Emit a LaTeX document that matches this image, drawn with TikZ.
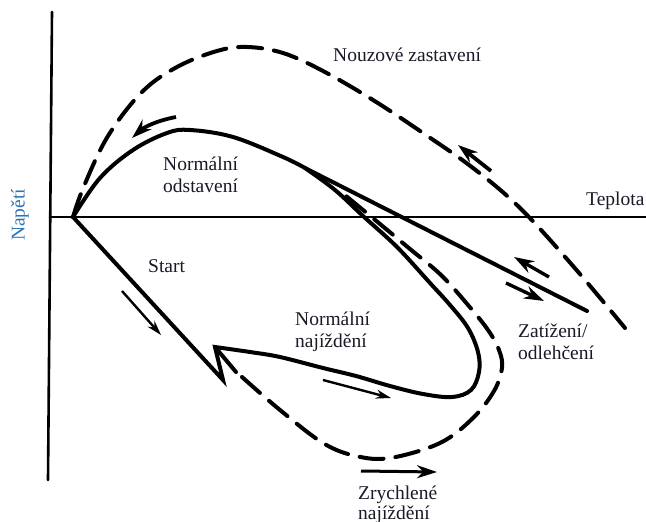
\documentclass[tikz,border=0pt]{standalone}
\usepackage{fontspec}
\setmainfont{Liberation Serif}
\usetikzlibrary{arrows.meta}
\definecolor{axisblue}{RGB}{46,116,181}
\definecolor{txt}{RGB}{25,25,40}
\tikzset{
  axisline/.style={line width=2.6pt, line cap=round},
  solidcurve/.style={line width=4pt, line cap=round, line join=round},
  dashcurve/.style={line width=4pt, line cap=round, dash pattern=on 24pt off 12pt},
  thinarrow/.style={line width=2.4pt, -{Stealth[length=15pt,width=9pt]}},
  thickarrow/.style={line width=3.4pt, -{Stealth[length=20pt,width=13pt]}},
  lbl/.style={inner sep=0pt, font=\fontsize{19.5}{22}\selectfont, text=txt, anchor=base west},
}
\begin{document}
\begin{tikzpicture}[x=1pt,y=-1pt]
\useasboundingbox (0,0) rectangle (646,522);
% axes
\coordinate (ytop) at (52,12);
\coordinate (ybot) at (48,480);
\coordinate (xleft) at (50,217);
\coordinate (xright) at (646,217);
\coordinate (O) at (73,217);
\draw[axisline] (ytop) -- (ybot);
\draw[axisline] (xleft) -- (xright);
% emergency shutdown (dashed)
\draw[dashcurve] plot[smooth, tension=0.6] coordinates {(73,217) (84,186) (108,136) (142,92) (177,67) (217,51) (247,47) (283,53) (323,71) (373,100) (423,133) (473,168) (520,208) (573,266) (625,328)};
% normal shutdown + load line
\draw[solidcurve] plot[smooth, tension=0.6] coordinates {(73,217) (100,178) (133,150) (167,133) (190,130) (233,137) (283,157) (305,168)} -- (587,311);
% start + normal start-up
\draw[solidcurve, line join=miter] (O) -- (223,380) -- plot[smooth, tension=0.6] coordinates {(215,347) (250,352) (280,357) (323,368) (356,376) (390,386) (423,394) (452,397) (471,390) (479,372) (478,352) (468,328) (450,305) (430,283) (397,247) (363,216) (335,190) (305,168)};
\draw[solidcurve] (215,347) -- (236,372);
% accelerated start-up (dashed)
\draw[dashcurve] plot[smooth, tension=0.6] coordinates {(242,377) (280,410) (323,443) (356,456) (390,458) (440,443) (473,418) (494,391) (502,368) (499,350) (488,330) (468,305) (441,275) (410,249) (380,224) (346,196)};
% direction arrows
\draw[thinarrow] (122,291) -- (161,335);
\draw[thinarrow] (323,380) -- (391,398);
\draw[thickarrow, line width=3pt] (361,471) -- (437,472);
\draw[thickarrow] (549,277) -- (514,257);
\draw[thickarrow] (506,283) -- (544,301);
\draw[thickarrow, line width=3.8pt] (491,171) -- (458,145);
\draw[thickarrow, line width=3.8pt] (176,117) .. controls (155,121) and (143,128) .. (132,138);
% labels
\node[inner sep=0pt, font=\fontsize{19.5}{22}\selectfont, text=axisblue, rotate=90] (napeti) at (20,215) {Napětí};
\node[lbl] (teplota) at (586,205) {Teplota};
\node[lbl] (nouz) at (333,61) {Nouzové zastavení};
\node[lbl] (odst1) at (163,170) {Normální};
\node[lbl] (odst2) at (163,192) {odstavení};
\node[lbl] (start) at (148,272) {Start};
\node[lbl] (naj1) at (295,325) {Normální};
\node[lbl] (naj2) at (295,347) {najíždění};
\node[lbl] (zat1) at (518,337) {Zatížení/};
\node[lbl] (zat2) at (518,359) {odlehčení};
\node[lbl] (zr1) at (358,499) {Zrychlené};
\node[lbl] (zr2) at (358,519) {najíždění};
\end{tikzpicture}
\end{document}
